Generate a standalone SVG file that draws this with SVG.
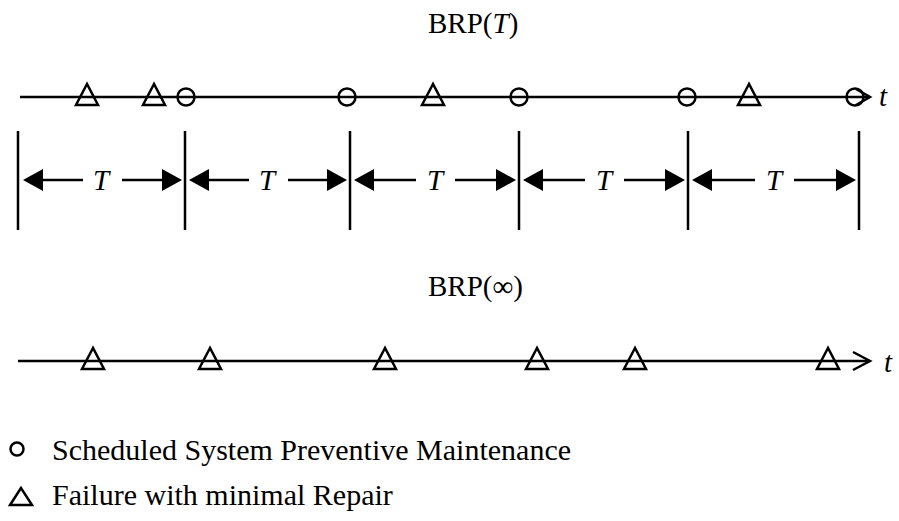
<svg xmlns="http://www.w3.org/2000/svg" width="899" height="521" viewBox="0 0 899 521">
<style>
.ln{stroke:#000;stroke-width:2.5;fill:none}
.sym{stroke:#000;stroke-width:2.5;fill:none}
.txt{font-family:"Liberation Serif","Times New Roman",serif;font-size:29px;fill:#000}
.lg{font-size:30px}
.it{font-style:italic}
</style>
<defs>
<marker id="fa" markerUnits="userSpaceOnUse" markerWidth="20" markerHeight="22" refX="0" refY="11" orient="auto"><path d="M0,0 L20,11 L0,22 z" fill="#000"/></marker>
</defs>
<rect width="899" height="521" fill="#fff"/>
<g id="title-brpT"><text class="txt" x="428" y="33">BRP(<tspan class="it">T</tspan>)</text></g>
<g id="timeline-T">
<line class="ln" x1="20" y1="97" x2="870" y2="97"/>
<polyline class="ln" points="856,89 870,97 856,105" stroke-width="3"/>
<text class="txt it" x="879" y="106">t</text>
</g>
<g id="events-T">
<polygon class="sym" points="87,84 76,105 98,105"/>
<polygon class="sym" points="154,84 143,105 165,105"/>
<circle class="sym" cx="186" cy="97" r="8.5"/>
<circle class="sym" cx="347" cy="97" r="8.5"/>
<polygon class="sym" points="433,84 422,105 444,105"/>
<circle class="sym" cx="519" cy="97" r="8.5"/>
<circle class="sym" cx="687" cy="97" r="8.5"/>
<polygon class="sym" points="749,84 738,105 760,105"/>
<circle class="sym" cx="855" cy="97" r="8.5"/>
</g>
<g id="ticks">
<line class="ln" x1="18" y1="131" x2="18" y2="230"/>
<line class="ln" x1="185" y1="131" x2="185" y2="230"/>
<line class="ln" x1="350" y1="131" x2="350" y2="230"/>
<line class="ln" x1="519" y1="131" x2="519" y2="230"/>
<line class="ln" x1="688" y1="131" x2="688" y2="230"/>
<line class="ln" x1="859" y1="131" x2="859" y2="230"/>
</g>
<g id="connectors">
<line class="ln" x1="83" y1="180" x2="43" y2="180" marker-end="url(#fa)"/>
<line class="ln" x1="122" y1="180" x2="162" y2="180" marker-end="url(#fa)"/>
<line class="ln" x1="249" y1="180" x2="209" y2="180" marker-end="url(#fa)"/>
<line class="ln" x1="288" y1="180" x2="327" y2="180" marker-end="url(#fa)"/>
<line class="ln" x1="416" y1="180" x2="374" y2="180" marker-end="url(#fa)"/>
<line class="ln" x1="455" y1="180" x2="496" y2="180" marker-end="url(#fa)"/>
<line class="ln" x1="585" y1="180" x2="543" y2="180" marker-end="url(#fa)"/>
<line class="ln" x1="624" y1="180" x2="665" y2="180" marker-end="url(#fa)"/>
<line class="ln" x1="755" y1="180" x2="712" y2="180" marker-end="url(#fa)"/>
<line class="ln" x1="794" y1="180" x2="836" y2="180" marker-end="url(#fa)"/>
</g>
<g id="period-labels">
<text class="txt it" x="101" y="190" text-anchor="middle">T</text>
<text class="txt it" x="267" y="190" text-anchor="middle">T</text>
<text class="txt it" x="435" y="190" text-anchor="middle">T</text>
<text class="txt it" x="604" y="190" text-anchor="middle">T</text>
<text class="txt it" x="774" y="190" text-anchor="middle">T</text>
</g>
<g id="title-brpinf"><text class="txt" x="428" y="296">BRP(∞)</text></g>
<g id="timeline-inf">
<line class="ln" x1="18" y1="361" x2="870" y2="361"/>
<polyline class="ln" points="853,352 870,361 853,370"/>
<text class="txt it" x="884" y="372">t</text>
</g>
<g id="events-inf">
<polygon class="sym" points="93,348 82,369 104,369"/>
<polygon class="sym" points="210,348 199,369 221,369"/>
<polygon class="sym" points="385,348 374,369 396,369"/>
<polygon class="sym" points="537,348 526,369 548,369"/>
<polygon class="sym" points="635,348 624,369 646,369"/>
<polygon class="sym" points="828,348 817,369 839,369"/>
</g>
<g id="legend">
<circle cx="17" cy="449" r="6.5" stroke="#000" stroke-width="2.5" fill="none"/>
<text class="txt lg" x="52" y="460">Scheduled System Preventive Maintenance</text>
<polygon points="21,488 10,505 32,505" stroke="#000" stroke-width="2.5" fill="none"/>
<text class="txt lg" x="52" y="505">Failure with minimal Repair</text>
</g>
</svg>
